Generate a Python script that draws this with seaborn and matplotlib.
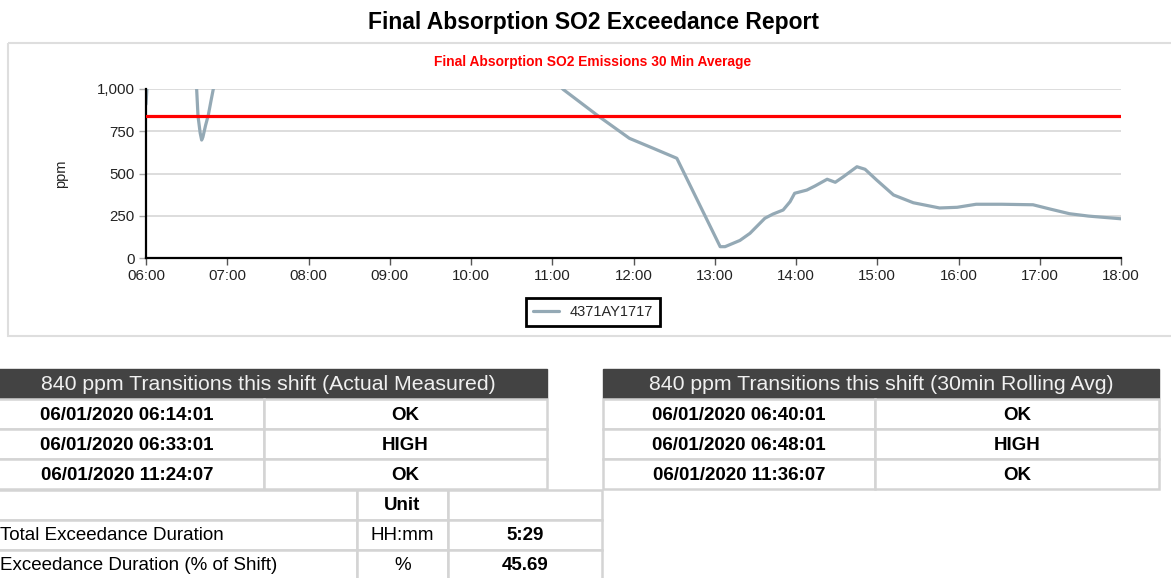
import pandas as pd
import matplotlib.pyplot as plt
import matplotlib.dates as mdates
from matplotlib.patches import Rectangle
from matplotlib.ticker import FuncFormatter
import seaborn as sns

# 30 min rolling average (values above 1000 are clipped)
times = ["06:00:00", "06:01:00", "06:10:00", "06:20:00", "06:30:00", "06:37:24",
         "06:38:24", "06:40:00", "06:41:06", "06:42:00", "06:44:00", "06:46:00",
         "06:48:00", "06:49:42", "07:00:00", "08:00:00", "09:00:00", "10:00:00",
         "10:45:00", "11:08:00", "11:34:00", "11:57:00", "12:14:36", "12:32:00",
         "13:04:00", "13:07:36", "13:18:36", "13:26:00", "13:37:00", "13:43:00",
         "13:50:30", "13:55:36", "13:59:00", "14:08:00", "14:14:00", "14:23:00",
         "14:29:00", "14:35:00", "14:45:00", "14:51:00", "14:59:36", "15:12:00",
         "15:26:36", "15:46:00", "15:59:00", "16:13:00", "16:32:00", "16:55:00",
         "17:08:00", "17:22:00", "17:36:00", "18:00:00"]
ppm = [910, 1050, 1250, 1300, 1200, 1000,
       840, 740, 698, 715, 785, 845,
       930, 1000, 1200, 1500, 1500, 1400,
       1200, 998, 840, 708, 649, 590,
       67, 67, 104, 146, 235, 260,
       284, 333, 383, 402, 426, 466,
       448, 481, 540, 525, 461, 373,
       327, 296, 300, 318, 318, 315,
       289, 262, 248, 232]
series_name = "4371AY1717"
limit_ppm = 840

left_title = "840 ppm Transitions this shift (Actual Measured)"
left_times = ["06/01/2020 06:14:01", "06/01/2020 06:33:01", "06/01/2020 11:24:07"]
left_status = ["OK", "HIGH", "OK"]

right_title = "840 ppm Transitions this shift (30min Rolling Avg)"
right_times = ["06/01/2020 06:40:01", "06/01/2020 06:48:01", "06/01/2020 11:36:07"]
right_status = ["OK", "HIGH", "OK"]

summary_labels = ["Total Exceedance Duration", "Exceedance Duration (% of Shift)"]
summary_units = ["HH:mm", "%"]
summary_values = ["5:29", "45.69"]

sns.set_theme(style="white")
plt.rcParams['font.family'] = ['Liberation Sans', 'DejaVu Sans']

W, H = 1171, 578
fig = plt.figure(figsize=(W / 100, H / 100), dpi=100)

# background layer in pixel coordinates for panel, titles and tables
bg = fig.add_axes([0, 0, 1, 1], zorder=0)
bg.set_xlim(0, W)
bg.set_ylim(H, 0)
bg.axis('off')

bg.add_patch(Rectangle((8, 43), 1170, 293, fill=False, edgecolor='#dedede', lw=1.5))
bg.text(594, 22, "Final Absorption SO2 Exceedance Report", ha='center', va='center',
        fontsize=16.5, fontweight='bold', color='black')
bg.text(593, 62, "Final Absorption SO2 Emissions 30 Min Average", ha='center', va='center',
        fontsize=9.9, fontweight='bold', color='#ff0000')

# chart
df = pd.DataFrame({"time": pd.to_datetime(["2020-06-01 " + t for t in times]), "ppm": ppm})
ax = fig.add_axes([146 / W, 1 - 258 / H, (1121 - 146) / W, (258 - 89) / H], zorder=1)
ax.set_facecolor('none')
sns.lineplot(data=df, x="time", y="ppm", ax=ax, color='#94a9b5', lw=2.3, label=series_name)
ax.axhline(limit_ppm, color='#ff0000', lw=2.3, zorder=3)
ax.set_xlim(pd.Timestamp("2020-06-01 06:00"), pd.Timestamp("2020-06-01 18:00"))
ax.set_ylim(0, 1000)
ax.set_yticks([0, 250, 500, 750, 1000])
ax.yaxis.set_major_formatter(FuncFormatter(lambda v, p: f"{int(v):,}"))
ax.xaxis.set_major_locator(mdates.HourLocator())
ax.xaxis.set_major_formatter(mdates.DateFormatter("%H:%M"))
ax.grid(axis='y', color='#dadada', lw=1.3)
ax.grid(axis='x', visible=False)
for s in ['top', 'right']:
    ax.spines[s].set_visible(False)
for s in ['left', 'bottom']:
    ax.spines[s].set_color('black')
    ax.spines[s].set_linewidth(1.6)
ax.tick_params(axis='both', which='major', labelsize=10.8, colors='#222222', length=5,
               width=1, direction='out', left=True, bottom=True, pad=3)
ax.tick_params(axis='y', colors='#aaaaaa', labelcolor='#222222')
ax.tick_params(axis='x', colors='#555555', labelcolor='#222222')
ax.set_xlabel("")
ax.set_ylabel("ppm", fontsize=10.5, color='#222222')
ax.yaxis.set_label_coords(-0.08, 0.5)
ax.legend(loc='center', bbox_to_anchor=(593 / W, 1 - 312 / H), bbox_transform=fig.transFigure,
          fontsize=10.5, frameon=True, fancybox=False, edgecolor='black', framealpha=1,
          handlelength=1.8, handletextpad=0.7, borderpad=0.5).get_frame().set_linewidth(2)

# tables
grid_col = '#d4d4d4'
head_col = '#434343'


def cell(x0, x1, y0, y1, text="", bold=False, align='center', fc='white', tc='black', fs=13.5):
    bg.add_patch(Rectangle((x0, y0), x1 - x0, y1 - y0, facecolor=fc, edgecolor=grid_col, lw=1.8))
    if text:
        tx = (x0 + x1) / 2 if align == 'center' else 0
        bg.text(tx, (y0 + y1) / 2 + 1, text, ha=align, va='center', fontsize=fs,
                fontweight='bold' if bold else 'normal', color=tc)


rows_y = [399, 429, 459, 489]


def transitions(xs, title, tlist, slist):
    bg.add_patch(Rectangle((xs[0], 369), xs[2] - xs[0], 29, facecolor=head_col, edgecolor=head_col))
    bg.text((xs[0] + xs[2]) / 2, 384, title, ha='center', va='center', fontsize=15.3, color='#f0f0f0')
    for i in range(3):
        cell(xs[0], xs[1], rows_y[i], rows_y[i + 1], tlist[i], bold=True)
        cell(xs[1], xs[2], rows_y[i], rows_y[i + 1], slist[i], bold=True)


transitions([-10, 264, 547], left_title, left_times, left_status)
transitions([603, 875, 1159], right_title, right_times, right_status)

cols = [-2, 357, 448, 602]
sum_y = [490, 520, 550, 580]
cell(cols[0], cols[1], sum_y[0], sum_y[1])
cell(cols[1], cols[2], sum_y[0], sum_y[1], "Unit", bold=True)
cell(cols[2], cols[3], sum_y[0], sum_y[1])
for i in range(2):
    cell(cols[0], cols[1], sum_y[i + 1], sum_y[i + 2], summary_labels[i], align='left')
    cell(cols[1], cols[2], sum_y[i + 1], sum_y[i + 2], summary_units[i])
    cell(cols[2], cols[3], sum_y[i + 1], sum_y[i + 2], summary_values[i], bold=True)

fig.savefig("out.png", dpi=100)
